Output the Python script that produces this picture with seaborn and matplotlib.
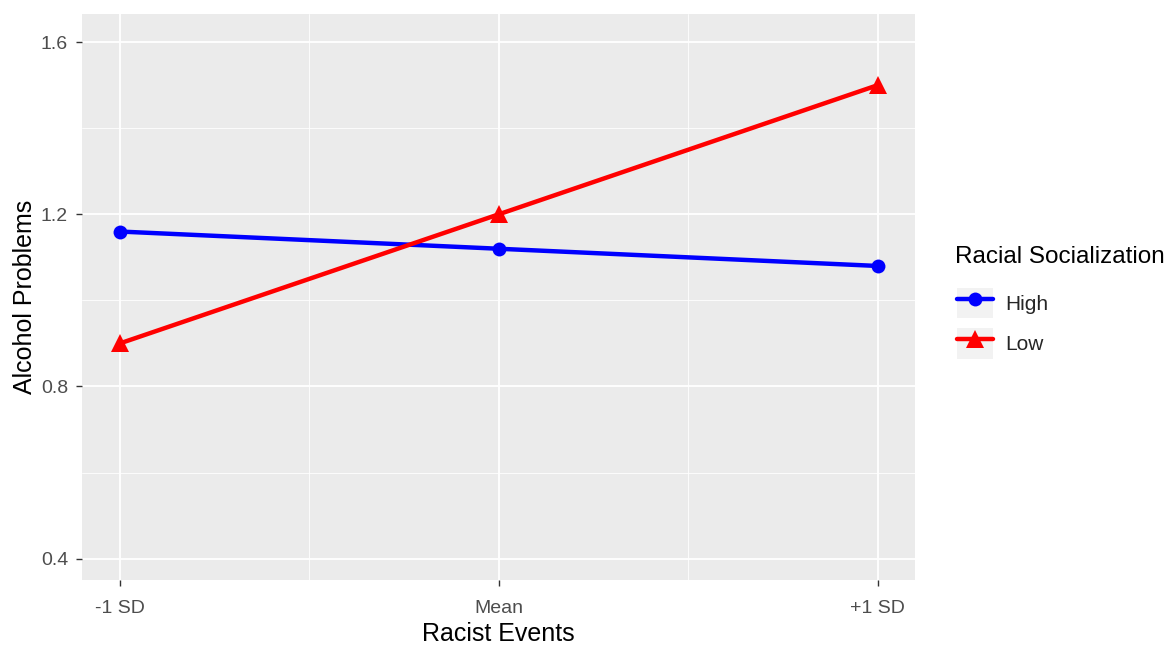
import numpy as np
import pandas as pd
import matplotlib
matplotlib.use("Agg")
import matplotlib.pyplot as plt
from matplotlib.lines import Line2D
from matplotlib.patches import Rectangle
from matplotlib.legend_handler import HandlerTuple
from matplotlib.ticker import MultipleLocator
import seaborn as sns

events = ["-1 SD", "Mean", "+1 SD"]
high_vals = [1.16, 1.12, 1.08]
low_vals = [0.90, 1.20, 1.50]
groups = ["High", "Low"]
colors = {"High": "#0000FF", "Low": "#FF0000"}
marks = {"High": "o", "Low": "^"}
msize = {"High": 10, "Low": 13}

df = pd.DataFrame({
    "x": list(range(len(events))) * 2,
    "Alcohol Problems": high_vals + low_vals,
    "Racial Socialization": ["High"] * 3 + ["Low"] * 3,
})

sns.set_theme(style="darkgrid", rc={
    "axes.facecolor": "#EBEBEB",
    "grid.color": "white",
})
plt.rcParams["font.family"] = ["Liberation Sans", "DejaVu Sans"]

fig = plt.figure(figsize=(11.74, 6.46), dpi=100)
ax = fig.add_axes([0.0698, 0.102, 0.710, 0.876])

sns.lineplot(data=df, x="x", y="Alcohol Problems", hue="Racial Socialization",
             style="Racial Socialization", markers=marks, dashes=False,
             palette=colors, linewidth=3.2, markeredgewidth=0,
             legend=False, ax=ax)
# triangles look smaller than circles at the same size, bump them
for line in ax.lines:
    if line.get_marker() == "^":
        line.set_markersize(msize["Low"])
    else:
        line.set_markersize(msize["High"])

ax.set_xlim(-0.1, 2.1)
ax.set_ylim(0.35, 1.665)
ax.set_xticks(range(len(events)))
ax.set_xticklabels(events)
ax.set_yticks([0.4, 0.8, 1.2, 1.6])
ax.xaxis.set_minor_locator(MultipleLocator(0.5))
ax.yaxis.set_minor_locator(MultipleLocator(0.2))
ax.grid(which="major", color="white", linewidth=1.3)
ax.grid(which="minor", color="white", linewidth=0.6)
ax.set_axisbelow(True)
for s in ax.spines.values():
    s.set_visible(False)
ax.tick_params(axis="both", which="major", length=4, width=1, color="#333333",
               labelsize=14, labelcolor="#4D4D4D", bottom=True, left=True)
ax.tick_params(axis="x", pad=10)
ax.tick_params(axis="y", pad=6)
ax.tick_params(which="minor", length=0)
ax.set_xlabel("Racist Events", fontsize=18, color="black", labelpad=4)
ax.set_ylabel("Alcohol Problems", fontsize=18, color="black", labelpad=3)

# legend title placed on its own so the gap to the keys matches ggplot
fig.text(955 / 1174, 1 - 257 / 646, "Racial Socialization", fontsize=17.5,
         color="black", ha="left", va="center")
handles = []
for g in groups:
    box = Rectangle((0, 0), 1, 1, facecolor="#F2F2F2", edgecolor="none")
    ln = Line2D([], [], color=colors[g], marker=marks[g], linewidth=3.2,
                markersize=msize[g], markeredgewidth=0)
    handles.append((box, ln))
leg = fig.legend(handles, groups,
                 handler_map={tuple: HandlerTuple(ndivide=1, pad=0)},
                 loc="upper left", bbox_to_anchor=(0.806, 0.571),
                 frameon=False, fontsize=15,
                 handlelength=1.75, handleheight=1.9, handletextpad=0.6,
                 labelspacing=0.45, borderpad=0)

fig.savefig("out.png", dpi=100)
